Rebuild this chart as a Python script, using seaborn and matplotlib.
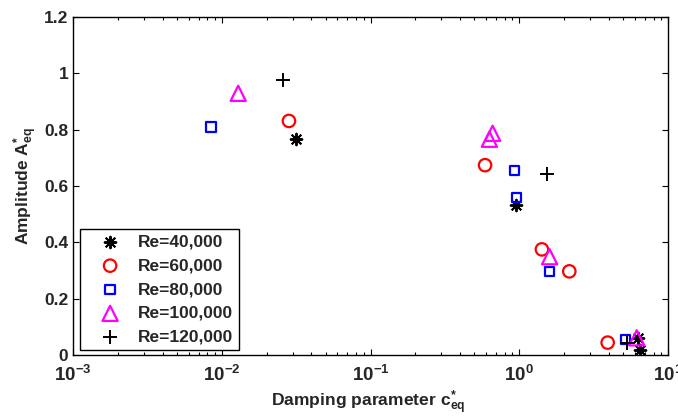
import numpy as np
import pandas as pd
import matplotlib
matplotlib.use("Agg")
import matplotlib.pyplot as plt
import seaborn as sns
from matplotlib.ticker import LogLocator, FixedLocator, FuncFormatter, NullFormatter

# ---- data ----
labels = ["Re=40,000", "Re=60,000", "Re=80,000", "Re=100,000", "Re=120,000"]

c_40k = [0.0315, 0.95, 6.45, 6.25]
a_40k = [0.767, 0.533, 0.018, 0.062]

c_60k = [0.0283, 0.589, 1.42, 2.17, 3.93]
a_60k = [0.831, 0.674, 0.375, 0.297, 0.044]

c_80k = [0.00848, 0.927, 0.962, 1.59, 5.2]
a_80k = [0.810, 0.656, 0.558, 0.297, 0.056]

c_100k = [0.0129, 0.662, 0.630, 1.60, 6.16]
a_100k = [0.929, 0.787, 0.766, 0.349, 0.061]

c_120k = [0.0257, 1.53, 5.33]
a_120k = [0.976, 0.643, 0.041]

xs = [c_40k, c_60k, c_80k, c_100k, c_120k]
ys = [a_40k, a_60k, a_80k, a_100k, a_120k]

colors = ["black", "red", "blue", "magenta", "black"]
markers = [(8, 2, 0), "o", "s", "^", "+"]
sizes = [70, 80, 45, 120, 110]
filled = [False, True, True, True, False]

yticks = [0, 0.2, 0.4, 0.6, 0.8, 1.0, 1.2]

sns.set_theme(style="ticks")
plt.rcParams["font.family"] = ["Liberation Sans", "DejaVu Sans"]
plt.rcParams["font.weight"] = "bold"
plt.rcParams["mathtext.fontset"] = "custom"
plt.rcParams["mathtext.rm"] = "Liberation Sans:bold"
plt.rcParams["mathtext.it"] = "Liberation Sans:bold"
plt.rcParams["mathtext.bf"] = "Liberation Sans:bold"
plt.rcParams["mathtext.default"] = "rm"

fig = plt.figure(figsize=(6.78, 4.19), dpi=100)
ax = fig.add_axes([73 / 678, 1 - 355 / 419, 595 / 678, 338 / 419])

for lab, x, y, col, mk, s, f in zip(labels, xs, ys, colors, markers, sizes, filled):
    df = pd.DataFrame({"c": x, "A": y})
    if f:
        sns.scatterplot(data=df, x="c", y="A", ax=ax, marker=mk, s=s,
                        facecolors="none", edgecolors=col, linewidths=1.6,
                        label=lab, zorder=3)
    else:
        sns.scatterplot(data=df, x="c", y="A", ax=ax, marker=mk, s=s,
                        color=col, linewidths=1.4, label=lab, zorder=3)

ax.set_xscale("log")
ax.set_xlim(1e-3, 1e1)
ax.set_ylim(0, 1.2)
ax.yaxis.set_major_locator(FixedLocator(yticks))
ax.yaxis.set_major_formatter(FuncFormatter(lambda v, p: f"{v:g}"))
ax.xaxis.set_major_locator(LogLocator(base=10, numticks=10))
ax.xaxis.set_minor_locator(LogLocator(base=10, subs=np.arange(2, 10), numticks=20))
ax.xaxis.set_minor_formatter(NullFormatter())

ax.tick_params(which="both", direction="in", top=True, right=True,
               width=0.8, color="black")
ax.tick_params(axis="y", labelsize=12.5)
ax.tick_params(axis="x", labelsize=13.5, pad=7)
ax.tick_params(which="major", length=4)
ax.tick_params(which="minor", length=2.5)
for lbl in ax.get_xticklabels() + ax.get_yticklabels():
    lbl.set_fontweight("bold")
for sp in ax.spines.values():
    sp.set_visible(True)
    sp.set_linewidth(1.0)
    sp.set_color("black")

ax.set_xlabel(r"Damping parameter c$^{*}_{eq}$", fontsize=12.6, fontweight="bold")
ax.xaxis.set_label_coords(0.497, -0.1)
ax.set_ylabel(r"Amplitude A$^{*}_{eq}$", fontsize=12.5, fontweight="bold", labelpad=3)

leg = ax.legend(loc="lower left", bbox_to_anchor=(0.012, 0.015), borderaxespad=0,
                frameon=True, fancybox=False, edgecolor="black", framealpha=1,
                prop={"weight": "bold", "size": 12.5}, handletextpad=0.2,
                labelspacing=0.5, borderpad=0.3, handlelength=2.85)
leg.get_frame().set_linewidth(1.0)

fig.savefig("out.png", dpi=100, facecolor="white")
